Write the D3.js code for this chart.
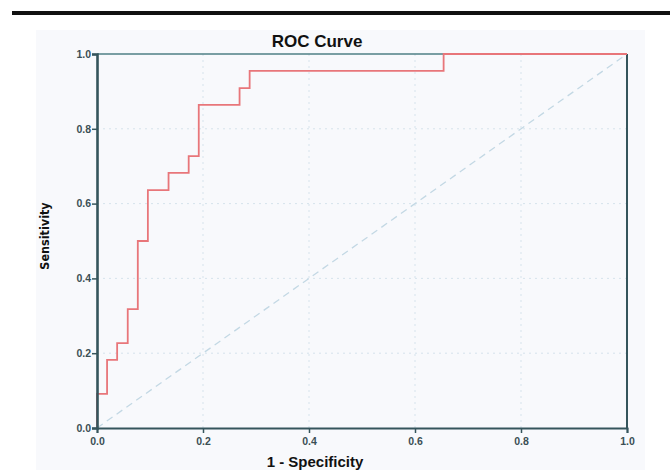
<!DOCTYPE html>
<html>
<head>
<meta charset="utf-8">
<script src="https://cdn.jsdelivr.net/npm/d3@7"></script>
<style>
  body { margin: 0; background: #fff; }
  svg { display: block; font-family: "Liberation Sans", Arial, sans-serif; }
</style>
</head>
<body>
<div id="vis-holder"></div>
<script>
// canvas + plot area
const width = 670;
const height = 470;
const margin = { top: 54, right: 41, bottom: 42, left: 97 };

// ROC points (1 - specificity, sensitivity)
const fpr = [0, 0, 0.019, 0.038, 0.058, 0.077, 0.096, 0.135, 0.173, 0.192, 0.269, 0.288, 0.654, 1];
const tpr = [0, 0.091, 0.182, 0.227, 0.318, 0.5, 0.636, 0.682, 0.727, 0.864, 0.909, 0.955, 1, 1];
const ticks = [0, 0.2, 0.4, 0.6, 0.8, 1.0];

const rocData = fpr.map((d, i) => ({ x: d, y: tpr[i] }));

const axisColor = "#35555c";

const svg = d3.select("#vis-holder")
  .append("svg")
  .attr("width", width)
  .attr("height", height);

// black rule at very top
svg.append("rect")
  .attr("x", 12).attr("y", 11)
  .attr("width", width - 12).attr("height", 4)
  .attr("fill", "#111");

// light panel behind chart
svg.append("rect")
  .attr("x", 36).attr("y", 30)
  .attr("width", 609).attr("height", height - 30)
  .attr("fill", "#f8f9fc");

const x = d3.scaleLinear()
  .domain([0, 1])
  .range([margin.left, width - margin.right - 2]);

const y = d3.scaleLinear()
  .domain([0, 1])
  .range([height - margin.bottom, margin.top]);

// grid lines (dotted)
svg.append("g")
  .selectAll("line.vgrid")
  .data(ticks.slice(1, -1))
  .enter()
  .append("line")
    .attr("x1", d => x(d)).attr("x2", d => x(d))
    .attr("y1", y(0)).attr("y2", y(1))
    .attr("stroke", "#d6e3ec")
    .attr("stroke-width", 1)
    .attr("stroke-dasharray", "2,4");

svg.append("g")
  .selectAll("line.hgrid")
  .data(ticks.slice(1, -1))
  .enter()
  .append("line")
    .attr("x1", x(0)).attr("x2", x(1))
    .attr("y1", d => y(d)).attr("y2", d => y(d))
    .attr("stroke", "#d6e3ec")
    .attr("stroke-width", 1)
    .attr("stroke-dasharray", "2,4");

// diagonal reference line
svg.append("line")
  .attr("x1", x(0)).attr("y1", y(0))
  .attr("x2", x(1)).attr("y2", y(1))
  .attr("stroke", "#c3d8e4")
  .attr("stroke-width", 1.3)
  .attr("stroke-dasharray", "7,5");

// frame: top and right
svg.append("line")
  .attr("x1", x(0)).attr("x2", x(1))
  .attr("y1", y(1)).attr("y2", y(1))
  .attr("stroke", "#4f7f86").attr("stroke-width", 1.5);
svg.append("line")
  .attr("x1", x(1)).attr("x2", x(1))
  .attr("y1", y(1)).attr("y2", y(0))
  .attr("stroke", axisColor).attr("stroke-width", 2);

// ROC curve
const line = d3.line()
  .x(d => x(d.x))
  .y(d => y(d.y))
  .curve(d3.curveStepAfter);

svg.append("path")
  .datum(rocData)
  .attr("d", line)
  .attr("fill", "none")
  .attr("stroke", "#e8767a")
  .attr("stroke-width", 1.8);

// x axis
const xAxis = svg.append("g")
  .attr("transform", `translate(0,${y(0)})`)
  .call(d3.axisBottom(x).tickValues(ticks).tickFormat(d3.format(".1f")).tickSizeOuter(0).tickSize(5));
xAxis.select(".domain").attr("stroke", axisColor).attr("stroke-width", 2);
xAxis.selectAll(".tick line").attr("stroke", axisColor).attr("stroke-width", 1.5);
xAxis.selectAll(".tick text")
  .attr("fill", "#3b4f55")
  .attr("font-size", "10.5px")
  .attr("font-weight", "bold")
  .attr("dy", "0.9em");

// y axis
const yAxis = svg.append("g")
  .attr("transform", `translate(${x(0)},0)`)
  .call(d3.axisLeft(y).tickValues(ticks).tickFormat(d3.format(".1f")).tickSizeOuter(0).tickSize(5));
yAxis.select(".domain").attr("stroke", axisColor).attr("stroke-width", 2.6);
yAxis.selectAll(".tick line").attr("stroke", axisColor).attr("stroke-width", 1.5);
yAxis.selectAll(".tick text")
  .attr("fill", "#3b4f55")
  .attr("font-size", "10.5px")
  .attr("font-weight", "bold")
  .attr("x", -6);

// titles
svg.append("text")
  .attr("x", 317).attr("y", 47)
  .attr("text-anchor", "middle")
  .attr("font-size", "17px")
  .attr("font-weight", "bold")
  .attr("fill", "#111")
  .text("ROC Curve");

svg.append("text")
  .attr("x", 315).attr("y", 467)
  .attr("text-anchor", "middle")
  .attr("font-size", "15px")
  .attr("font-weight", "bold")
  .attr("fill", "#111")
  .text("1 - Specificity");

svg.append("text")
  .attr("transform", "translate(49,236) rotate(-90)")
  .attr("text-anchor", "middle")
  .attr("font-family", "'DejaVu Sans Condensed', 'Liberation Sans Narrow', sans-serif")
  .attr("font-size", "12.5px")
  .attr("font-weight", "bold")
  .attr("fill", "#111")
  .text("Sensitivity");
</script>
</body>
</html>
